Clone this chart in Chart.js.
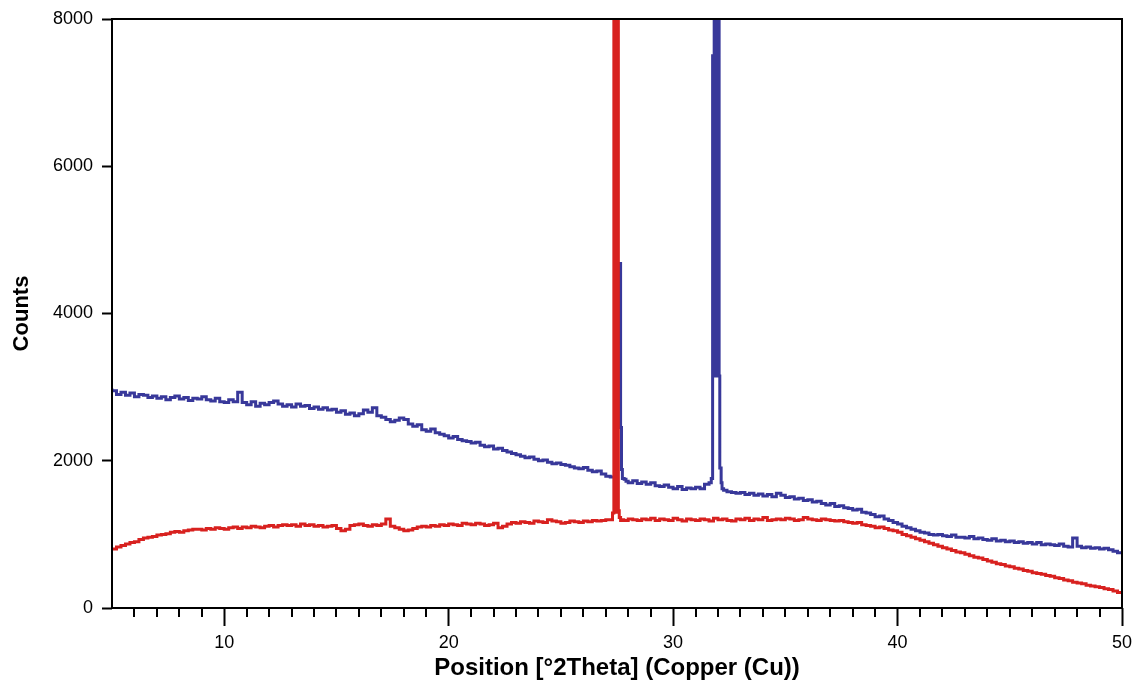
<!DOCTYPE html>
<html>
<head>
<meta charset="utf-8">
<script src="https://cdn.jsdelivr.net/npm/chart.js@4.4.1/dist/chart.umd.min.js"></script>
<style>
  html, body { margin: 0; padding: 0; background: #fff; }
</style>
</head>
<body>
<canvas id="xrd" width="1132" height="684"></canvas>
<script>
// background scan on a 0.2 degree grid from 5 to 50
const gridStart = 5;
const gridStep = 0.2;

const blueCounts = [
    2980, 2950, 2900, 2930, 2890, 2920, 2870, 2900, 2890, 2860,
    2880, 2850, 2870, 2830, 2860, 2880, 2840, 2860, 2820, 2850,
    2840, 2870, 2830, 2810, 2850, 2800, 2790, 2830, 2800, 2930,
    2790, 2760, 2800, 2740, 2780, 2760, 2790, 2810, 2770, 2740,
    2760, 2730, 2770, 2740, 2750, 2710, 2730, 2700, 2720, 2690,
    2700, 2660, 2680, 2630, 2650, 2610, 2640, 2690, 2660, 2720,
    2610, 2590, 2560, 2530, 2550, 2580, 2560, 2500, 2470, 2490,
    2420, 2400, 2430, 2380, 2360, 2340, 2310, 2330, 2290, 2270,
    2260, 2240, 2250, 2210, 2190, 2200, 2160, 2170, 2140, 2120,
    2100, 2080, 2060, 2040, 2050, 2020, 2000, 2010, 1980, 1960,
    1970, 1950, 1940, 1920, 1900, 1890, 1910, 1870, 1850, 1860,
    1820, 1790, 1780, 1780, 1740, 1720, 1700, 1730, 1690, 1710,
    1680, 1700, 1660, 1650, 1670, 1640, 1620, 1650, 1610, 1630,
    1620, 1640, 1620, 1680, 1700, 1700, 1620, 1600, 1580, 1570,
    1560, 1570, 1540, 1560, 1530, 1550, 1520, 1540, 1510, 1560,
    1530, 1500, 1510, 1480, 1490, 1460, 1470, 1440, 1450, 1420,
    1400, 1420, 1380, 1390, 1360, 1350, 1330, 1340, 1300, 1290,
    1270, 1240, 1250, 1210, 1190, 1160, 1140, 1110, 1090, 1070,
    1050, 1030, 1020, 1000, 990, 1000, 980, 970, 990, 960,
    960, 950, 970, 940, 950, 930, 920, 940, 910, 920,
    900, 910, 890, 900, 880, 890, 870, 890, 860, 870,
    860, 850, 870, 840, 830, 950, 840, 820, 830, 810,
    820, 800, 810, 790, 770, 750
];

const redCounts = [
    780, 800, 830, 850, 870, 890, 900, 930, 950, 960,
    970, 990, 1000, 1010, 1030, 1040, 1030, 1050, 1060, 1070,
    1070, 1060, 1080, 1070, 1090, 1080, 1070, 1090, 1100, 1080,
    1100, 1090, 1110, 1100, 1090, 1110, 1120, 1100, 1120, 1130,
    1120, 1130, 1110, 1140, 1120, 1130, 1110, 1120, 1100, 1110,
    1120, 1080, 1050, 1070, 1120, 1130, 1140, 1120, 1110, 1130,
    1120, 1140, 1210, 1110, 1090, 1070, 1050, 1060, 1080, 1100,
    1110, 1100, 1120, 1110, 1130, 1120, 1140, 1130, 1120, 1150,
    1140, 1130, 1150, 1140, 1120, 1130, 1150, 1090, 1110, 1140,
    1160, 1150, 1170, 1160, 1150, 1180, 1170, 1160, 1200, 1180,
    1170, 1150, 1160, 1180, 1170, 1160, 1180, 1170, 1190, 1180,
    1190, 1200, 1210, 1200, 1200, 1190, 1210, 1200, 1190, 1210,
    1200, 1220, 1190, 1210, 1200, 1190, 1220, 1200, 1180, 1210,
    1200, 1190, 1210, 1200, 1180, 1220, 1200, 1210, 1190, 1180,
    1210, 1200, 1220, 1190, 1210, 1200, 1230, 1190, 1200, 1210,
    1200, 1220, 1210, 1190, 1200, 1230, 1210, 1200, 1190, 1210,
    1200, 1190, 1180, 1190, 1170, 1160, 1150, 1160, 1130, 1120,
    1110, 1090, 1100, 1080, 1060, 1050, 1030, 1000, 980, 960,
    940, 920, 900, 880, 860, 840, 820, 800, 780, 760,
    750, 730, 710, 690, 680, 660, 640, 620, 600, 590,
    570, 560, 540, 530, 510, 500, 480, 470, 460, 440,
    430, 410, 400, 380, 370, 350, 340, 330, 310, 300,
    290, 280, 260, 250, 230, 210
];

// fine-step regions around the reflections
const blueSpikePos = [27.50, 27.62, 27.66, 27.70, 27.74, 27.82, 27.90];
const blueSpikeCounts = [1780, 3600, 4680, 2450, 1880, 1760, 1750];

const bluePeakPos = [31.70, 31.76, 31.83, 31.85, 31.88, 31.90, 31.93, 31.95, 31.98, 32.00, 32.03, 32.05, 32.08, 32.14, 32.18, 32.25];
const bluePeakCounts = [1700, 1760, 7500, 9500, 3150, 9500, 3150, 9500, 3150, 9500, 3150, 9500, 3150, 1900, 1700, 1620];

const redPeakPos = [27.30, 27.36, 27.41, 27.44, 27.46, 27.49, 27.51, 27.54, 27.56, 27.60, 27.66, 27.75];
const redPeakCounts = [1200, 1290, 9500, 1300, 9500, 1300, 9500, 1300, 9500, 1320, 1230, 1190];

const yTicks = [0, 2000, 4000, 6000, 8000];

function buildSeries(counts, peaks) {
    let pts = [];
    counts.forEach(function (c, i) {
        let x = Math.round((gridStart + i * gridStep) * 100) / 100;
        let inPeak = peaks.some(function (p) {
            return x >= p[0][0] && x <= p[0][p[0].length - 1];
        });
        if (!inPeak) pts.push({x: x, y: c});
    });
    peaks.forEach(function (p) {
        p[0].forEach(function (x, j) {
            pts.push({x: x, y: p[1][j]});
        });
    });
    pts.sort(function (a, b) { return a.x - b.x; });
    return pts;
}

const FONT = "'Liberation Sans', Arial, sans-serif";

// box around the plot + short minor ticks on the x axis
const frame = {
    id: 'frame',
    afterDraw(chart) {
        const ctx = chart.ctx;
        const a = chart.chartArea;
        const xs = chart.scales.x;
        ctx.save();
        ctx.strokeStyle = '#000';
        ctx.lineWidth = 2;
        ctx.strokeRect(a.left, a.top, a.right - a.left, a.bottom - a.top);
        ctx.beginPath();
        xs.ticks.forEach(function (t) {
            if (t.value % 10 === 0 || t.value === xs.min) return;
            let px = Math.round(xs.getPixelForValue(t.value));
            ctx.moveTo(px, a.bottom);
            ctx.lineTo(px, a.bottom + 9);
        });
        ctx.stroke();
        ctx.restore();
    }
};

new Chart(document.getElementById('xrd'), {
    type: 'line',
    data: {
        datasets: [{
            label: 'red',
            data: buildSeries(redCounts, [[redPeakPos, redPeakCounts]]),
            borderColor: '#d8211f',
            borderWidth: 3,
            stepped: 'after',
            pointRadius: 0,
            clip: 0
        }, {
            label: 'blue',
            data: buildSeries(blueCounts, [[blueSpikePos, blueSpikeCounts], [bluePeakPos, bluePeakCounts]]),
            borderColor: '#38389a',
            borderWidth: 3,
            stepped: 'after',
            pointRadius: 0,
            clip: 0
        }]
    },
    options: {
        responsive: false,
        animation: false,
        devicePixelRatio: 1,
        layout: { padding: { top: 19, right: 10, left: 0, bottom: 0 } },
        plugins: { legend: { display: false }, tooltip: { enabled: false } },
        scales: {
            x: {
                type: 'linear',
                min: 5,
                max: 50,
                afterFit: function (s) {
                    s.height = 76;
                    s.paddingLeft = 0;
                    s.paddingRight = 0;
                },
                border: { display: false },
                grid: {
                    drawOnChartArea: false,
                    tickLength: 18,
                    tickWidth: 2,
                    tickColor: function (c) { return c.tick && c.tick.value % 10 === 0 ? '#000' : 'rgba(0,0,0,0)'; }
                },
                ticks: {
                    stepSize: 1,
                    autoSkip: false,
                    maxRotation: 0,
                    padding: 6,
                    color: '#000',
                    font: { family: FONT, size: 18 },
                    callback: function (v) { return v % 10 === 0 ? String(v) : ''; }
                },
                title: {
                    display: true,
                    text: 'Position [°2Theta] (Copper (Cu))',
                    color: '#000',
                    font: { family: FONT, size: 24, weight: 'bold' },
                    padding: { top: 0, bottom: 1 }
                }
            },
            y: {
                min: 0,
                max: 8000,
                afterFit: function (s) {
                    s.width = 112;
                    s.paddingTop = 0;
                    s.paddingBottom = 0;
                },
                afterBuildTicks: function (s) { s.ticks = yTicks.map(function (v) { return {value: v}; }); },
                border: { display: false },
                grid: {
                    drawOnChartArea: false,
                    tickLength: 10,
                    tickWidth: 2,
                    tickColor: '#000'
                },
                ticks: {
                    padding: 9,
                    color: '#000',
                    font: { family: FONT, size: 18 },
                    callback: function (v) { return String(v); }
                },
                title: {
                    display: true,
                    text: 'Counts',
                    color: '#000',
                    font: { family: FONT, size: 22, weight: 'bold' },
                    padding: { top: 9, bottom: 0 }
                }
            }
        }
    },
    plugins: [frame]
});
</script>
</body>
</html>
